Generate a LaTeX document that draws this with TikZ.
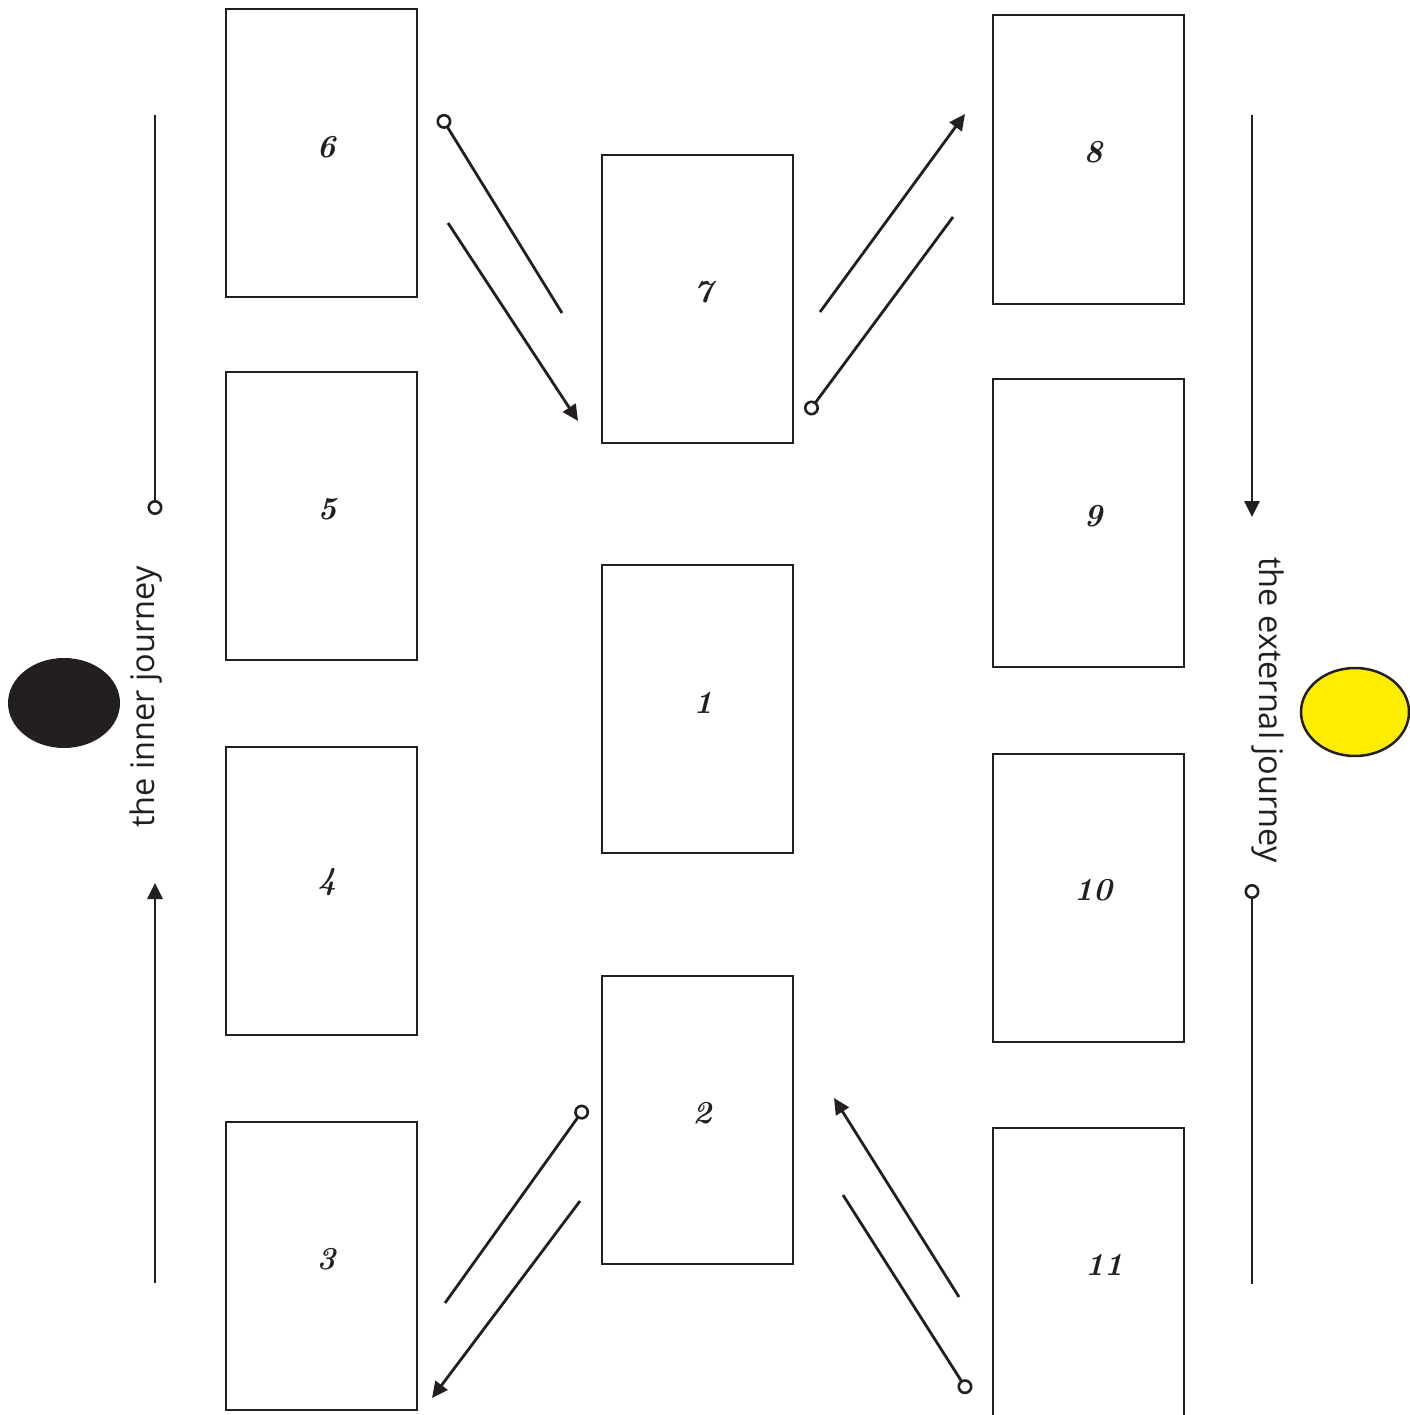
\documentclass[tikz,border=0pt]{standalone}
\usepackage{fontspec}
\setsansfont{Open Sans}
\usetikzlibrary{arrows.meta,calc,shapes.geometric}
\definecolor{ink}{HTML}{231F20}
\definecolor{sun}{HTML}{FFED00}
\begin{document}
\begin{tikzpicture}[x=1pt,y=-1pt,
 card/.style={draw=ink, line width=2pt, minimum width=191pt, minimum height=288pt, inner sep=0pt},
 num/.style={font=\fontsize{32}{32}\selectfont\bfseries\itshape, text=ink},
 conn/.style={line width=2.8pt, draw=ink},
 tipend/.style={-{Triangle[length=16pt,width=15pt]}},
 dotend/.style={{Circle[open,length=15pt,width=15pt,line width=2.6pt]}-},
 dotstart/.style={-{Circle[open,length=15pt,width=15pt,line width=2.6pt]}},
 orb/.style={ellipse, inner sep=0pt, minimum width=112pt, minimum height=90pt},
 journey/.style={font=\sffamily\fontsize{32.5}{32.5}\selectfont, text=ink}]
\useasboundingbox (0,0) rectangle (1409,1415);

% cards
\node[card] (c6) at (321.5,153) {};
\node[card] (c5) at (321.5,516) {};
\node[card] (c4) at (321.5,890.5) {};
\node[card] (c3) at (321.5,1265.5) {};
\node[card] (c7) at (697,299) {};
\node[card] (c1) at (697,709) {};
\node[card] (c2) at (697,1119.5) {};
\node[card] (c8) at (1088,159.5) {};
\node[card] (c9) at (1088,522.5) {};
\node[card] (c10) at (1088,897.5) {};
\node[card] (c11) at (1088,1272) {};

% numbers
\node[num] (n6) at (326,147) {6};
\node[num] (n5) at (327,509) {5};
\node[num] (n4) at (327,882) {4};
\node[num] (n3) at (326,1259) {3};
\node[num] (n7) at (703,292) {7};
\node[num] (n1) at (703,703) {1};
\node[num] (n2) at (702,1113) {2};
\node[num] (n8) at (1093,152) {8};
\node[num] (n9) at (1093,516) {9};
\node[num] (n10) at (1093,890) {10};
\node[num] (n11) at (1104,1265) {11};

% ellipses
\node[orb, fill=ink] (moon) at (64,703) {};
\node[orb, draw=ink, line width=2.5pt, fill=sun, minimum width=108pt, minimum height=88pt] (sunc) at (1355,712) {};

% journey labels
\node[journey, rotate=90] (inner) at (146,697) {the inner journey};
\node[journey, rotate=-90] (outer) at (1268,710) {the external journey};

% vertical lines
\coordinate (l1a) at (155,115); \coordinate (l1b) at (155,515);
\draw[conn, dotstart] (l1a) -- (l1b);
\coordinate (l2a) at (155,1283); \coordinate (l2b) at (155,883);
\draw[conn, tipend] (l2a) -- (l2b);
\coordinate (r1a) at (1252,115); \coordinate (r1b) at (1252,517);
\draw[conn, tipend] (r1a) -- (r1b);
\coordinate (r2a) at (1252,884); \coordinate (r2b) at (1252,1284);
\draw[conn, dotend] (r2a) -- (r2b);

% 6 -> 7
\coordinate (a1) at (440,115); \coordinate (a2) at (562,313);
\draw[conn, dotend] (a1) -- (a2);
\coordinate (a3) at (448,223); \coordinate (a4) at (578,421);
\draw[conn, tipend] (a3) -- (a4);
% 7 -> 8
\coordinate (b1) at (820,312); \coordinate (b2) at (965,114);
\draw[conn, tipend] (b1) -- (b2);
\coordinate (b3) at (807,414); \coordinate (b4) at (953,217);
\draw[conn, dotend] (b3) -- (b4);
% 2 -> 3
\coordinate (d1) at (586,1106); \coordinate (d2) at (445,1303);
\draw[conn, dotend] (d1) -- (d2);
\coordinate (d3) at (580,1201); \coordinate (d4) at (432,1398);
\draw[conn, tipend] (d3) -- (d4);
% 11 -> 2
\coordinate (e1) at (969,1393); \coordinate (e2) at (843,1195);
\draw[conn, dotend] (e1) -- (e2);
\coordinate (e3) at (959,1297); \coordinate (e4) at (834,1098);
\draw[conn, tipend] (e3) -- (e4);
\end{tikzpicture}
\end{document}
